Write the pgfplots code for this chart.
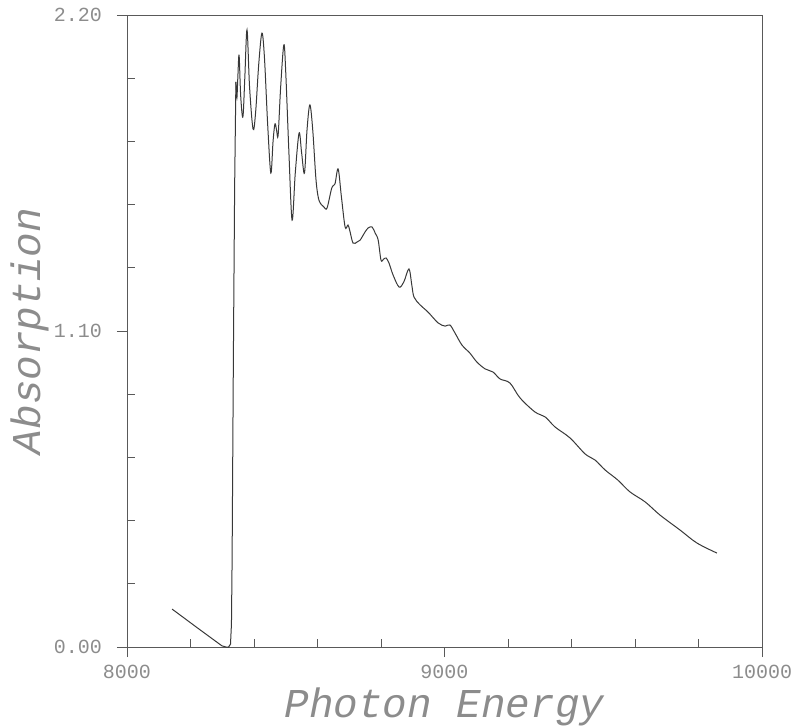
\documentclass[border=0pt]{standalone}
\usepackage{fontspec}
\setmainfont{Liberation Mono}
\usepackage{pgfplots}
\pgfplotsset{compat=1.18}

\definecolor{txt}{gray}{0.55}
\definecolor{axl}{gray}{0.35}
\definecolor{crv}{gray}{0.22}

\begin{document}
\begin{tikzpicture}
\begin{axis}[
  name=ax,
  width=635pt, height=632pt, scale only axis,
  xmin=8000, xmax=10000, ymin=0, ymax=2.2,
  scaled x ticks=false, scaled y ticks=false,
  axis line style={axl, line width=0.9pt},
  xtick={8000,9000,10000}, xticklabels={8000,9000,10000},
  ytick={0,1.1,2.2}, yticklabels={0.00,1.10,2.20},
  xtick pos=bottom, ytick pos=left,
  tick align=outside, major tick length=10pt,
  tick style={axl, line width=0.8pt},
  extra x ticks={8200,8400,8600,8800,9200,9400,9600,9800},
  extra x tick labels={},
  extra y ticks={0.22,0.44,0.66,0.88,1.32,1.54,1.76,1.98},
  extra y tick labels={},
  extra tick style={tick align=inside, major tick length=8pt},
  tick label style={font=\fontsize{20}{24}\selectfont, text=txt, inner sep=1pt},
  xticklabel style={yshift=-7pt},
  yticklabel style={xshift=-14pt},
  xlabel={Photon Energy},
  ylabel={Absorption},
  label style={font=\fontsize{41}{48}\selectfont\itshape, text=txt, inner sep=0pt},
  xlabel style={at={(axis description cs:0.5,-0.1108)}, anchor=base},
  ylabel style={at={(axis description cs:-0.137,0.5)}, anchor=base},
]
% pre-edge and edge
\addplot[crv, line width=1.0pt] coordinates {
  (8142,0.132) (8220,0.068) (8299,0.004) (8312,0.0) (8320,0.0)
  (8326,0.01) (8329,0.08) (8331,0.30) (8335,1.00) (8339,1.60) (8343,1.967)
};
% oscillations
\addplot[crv, line width=1.0pt, smooth, tension=0.55] coordinates {
  (8343,1.967) (8346,1.91) (8349,1.98) (8353,2.06) (8358,1.92) (8365,1.845)
  (8371,1.98) (8378,2.148) (8386,1.95) (8397,1.803) (8405,1.86) (8415,2.03)
  (8425,2.137) (8433,2.05) (8443,1.82) (8453,1.65) (8460,1.76) (8466,1.821)
  (8471,1.80) (8476,1.782) (8484,1.95) (8494,2.096) (8500,2.0) (8510,1.72)
  (8520,1.486) (8530,1.65) (8542,1.789) (8550,1.72) (8559,1.65) (8567,1.80)
  (8576,1.887) (8585,1.80) (8595,1.63) (8603,1.562) (8612,1.54) (8620,1.532)
  (8630,1.528) (8645,1.598) (8655,1.612) (8665,1.664) (8675,1.57) (8687,1.462)
  (8696,1.469) (8702,1.448) (8712,1.406) (8725,1.41) (8734,1.416) (8750,1.445)
  (8760,1.459) (8772,1.462) (8782,1.44) (8791,1.417) (8800,1.347) (8808,1.35)
  (8816,1.354) (8825,1.337) (8838,1.295) (8857,1.253) (8872,1.271) (8888,1.316)
  (8897,1.26) (8904,1.218) (8923,1.191) (8948,1.166) (8980,1.128) (9002,1.117)
  (9017,1.121) (9033,1.093) (9055,1.051) (9080,1.023) (9102,0.992) (9128,0.968)
  (9153,0.957) (9175,0.933) (9206,0.919) (9238,0.867) (9285,0.818) (9317,0.801)
  (9348,0.766) (9395,0.728) (9443,0.672) (9474,0.651) (9506,0.616) (9546,0.581)
  (9584,0.540) (9632,0.505) (9679,0.459) (9742,0.407) (9795,0.362) (9858,0.327)
};
\end{axis}
\pgfresetboundingbox
\path ([xshift=-127pt,yshift=-80pt]ax.south west) rectangle ([xshift=37pt,yshift=15pt]ax.north east);
\end{tikzpicture}
\end{document}
